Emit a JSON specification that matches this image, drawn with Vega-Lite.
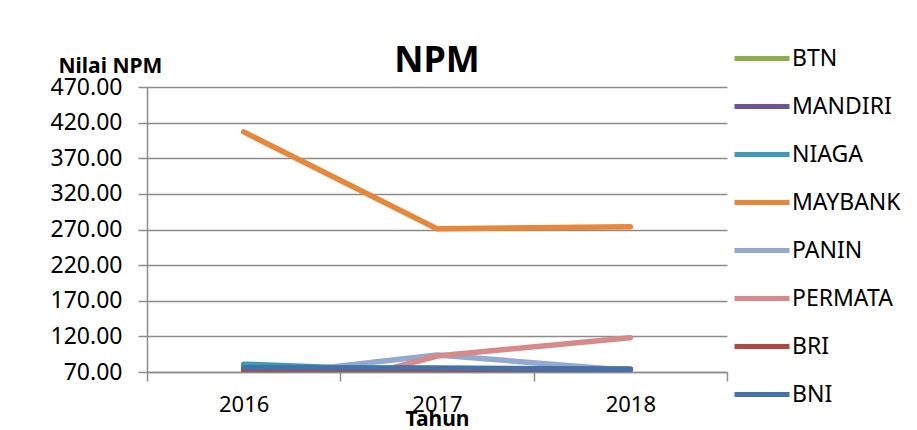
{
  "$schema": "https://vega.github.io/schema/vega-lite/v6.json",
  "autosize": "none",
  "width": 580,
  "height": 285,
  "padding": {"left": 147, "top": 87, "right": 190, "bottom": 58},
  "background": "white",
  "title": {"text": "NPM", "fontSize": 36, "font": "Noto Sans", "fontWeight": "bold", "color": "#000000", "anchor": "middle", "offset": 4, "dy": 49},
  "data": {"values": [
    {"Tahun": "2016", "Bank": "BTN", "NPM": 74},
    {"Tahun": "2017", "Bank": "BTN", "NPM": 74},
    {"Tahun": "2018", "Bank": "BTN", "NPM": 74},
    {"Tahun": "2016", "Bank": "MANDIRI", "NPM": 70.5},
    {"Tahun": "2017", "Bank": "MANDIRI", "NPM": 72},
    {"Tahun": "2018", "Bank": "MANDIRI", "NPM": 72},
    {"Tahun": "2016", "Bank": "NIAGA", "NPM": 81},
    {"Tahun": "2017", "Bank": "NIAGA", "NPM": 71},
    {"Tahun": "2018", "Bank": "NIAGA", "NPM": 69},
    {"Tahun": "2016", "Bank": "MAYBANK", "NPM": 407},
    {"Tahun": "2017", "Bank": "MAYBANK", "NPM": 271},
    {"Tahun": "2018", "Bank": "MAYBANK", "NPM": 274},
    {"Tahun": "2016", "Bank": "PANIN", "NPM": 63},
    {"Tahun": "2017", "Bank": "PANIN", "NPM": 94},
    {"Tahun": "2018", "Bank": "PANIN", "NPM": 72},
    {"Tahun": "2016", "Bank": "PERMATA", "NPM": 20},
    {"Tahun": "2017", "Bank": "PERMATA", "NPM": 92.5},
    {"Tahun": "2018", "Bank": "PERMATA", "NPM": 118},
    {"Tahun": "2016", "Bank": "BRI", "NPM": 72},
    {"Tahun": "2017", "Bank": "BRI", "NPM": 73},
    {"Tahun": "2018", "Bank": "BRI", "NPM": 74},
    {"Tahun": "2016", "Bank": "BNI", "NPM": 76},
    {"Tahun": "2017", "Bank": "BNI", "NPM": 75.5},
    {"Tahun": "2018", "Bank": "BNI", "NPM": 74}
  ]},
  "mark": {"type": "line", "strokeWidth": 5.5, "strokeCap": "round", "strokeJoin": "round", "clip": true},
  "encoding": {
    "x": {
      "field": "Tahun", "type": "ordinal",
      "scale": {"type": "band", "paddingInner": 0, "paddingOuter": 0},
      "axis": {
        "title": "Tahun", "titleFont": "Noto Sans", "titleFontSize": 21, "titleFontWeight": "bold", "titleColor": "#000",
        "titleY": 47, "titleBaseline": "middle",
        "labelAngle": 0, "labelFont": "Noto Sans", "labelFontSize": 22, "labelColor": "#000", "labelPadding": 13,
        "tickBand": "extent", "tickSize": 9, "tickColor": "#8c8c8c", "tickWidth": 1.5,
        "domainColor": "#8c8c8c", "domainWidth": 1.5, "grid": false
      }
    },
    "y": {
      "field": "NPM", "type": "quantitative",
      "scale": {"domain": [70, 470], "nice": false, "zero": false},
      "axis": {
        "title": "Nilai NPM", "titleFont": "Noto Sans", "titleFontSize": 21, "titleFontWeight": "bold", "titleColor": "#000",
        "titleAngle": 0, "titleAlign": "left", "titleBaseline": "middle", "titleX": -89, "titleY": -21,
        "values": [70, 120, 170, 220, 270, 320, 370, 420, 470], "format": ".2f",
        "labelFont": "Noto Sans", "labelFontSize": 23, "labelColor": "#000", "labelPadding": 16,
        "tickSize": 9, "tickColor": "#8c8c8c", "tickWidth": 1.5,
        "grid": true, "gridColor": "#8c8c8c", "gridWidth": 1.5,
        "domainColor": "#8c8c8c", "domainWidth": 1.5
      }
    },
    "color": {
      "field": "Bank", "type": "nominal",
      "scale": {
        "domain": ["BTN", "MANDIRI", "NIAGA", "MAYBANK", "PANIN", "PERMATA", "BRI", "BNI"],
        "range": ["#8EAB4E", "#6E5496", "#3E9BB5", "#E6873A", "#93A9D0", "#D68B8A", "#B24643", "#4472A8"]
      },
      "legend": {
        "title": null, "orient": "none", "legendX": 585, "legendY": -52,
        "symbolType": "stroke", "symbolSize": 3025, "symbolStrokeWidth": 5,
        "clipHeight": 47.2, "rowPadding": 0, "labelOffset": 0,
        "labelFont": "Noto Sans", "labelFontSize": 23, "labelColor": "#000", "labelLimit": 200
      }
    }
  },
  "config": {"view": {"stroke": null}}
}
